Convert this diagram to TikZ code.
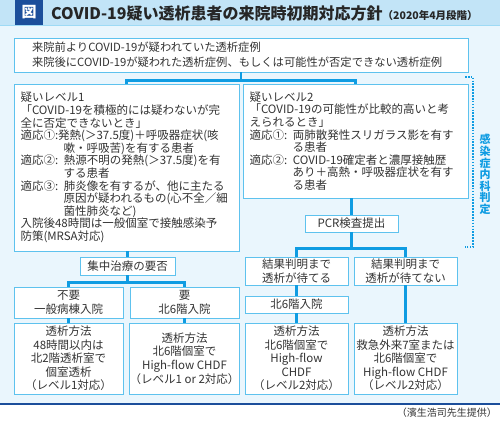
\documentclass[tikz,border=0pt]{standalone}
\usepackage{fontspec}
\setmainfont{Noto Sans CJK JP}
\definecolor{barblue}{HTML}{C2E4F7}
\definecolor{panelblue}{HTML}{EAF6FD}
\definecolor{navy}{HTML}{1B4E9B}
\definecolor{edgeblue}{HTML}{5EC2EE}
\definecolor{lineblue}{HTML}{0F9CE2}
\definecolor{inktext}{HTML}{333333}

\begin{document}
\begin{tikzpicture}[x=1pt, y=-1pt,
    box/.style={draw=edgeblue, fill=white, line width=0.9pt, inner sep=0pt,
        text=inktext, align=center, font=\fontsize{11.5}{13.6}\selectfont},
    levelbox/.style={box, align=left, minimum width=225pt, text width=212pt,
        font=\fontsize{11.5}{12.6}\selectfont},
    smallbox/.style={box, minimum width=103pt},
    conn/.style={draw=lineblue, line width=2.6pt}]
    % --- Khung tổng thể
    \def\W{500}
    \def\H{422}
    \def\ind{\hspace*{3.75em}}
    \useasboundingbox (0,0) rectangle (\W,\H);
    \fill[panelblue] (0,25) rectangle (\W,404);
    \fill[barblue] (0,0) rectangle (\W,25);
    \draw[edgeblue!60, line width=0.6pt] (0,25) -- (\W,25);
    \draw[navy, line width=2pt] (0,404) -- (\W,404);

    % --- Tiêu đề
    \node[fill=navy, text=white, minimum width=28pt, minimum height=25pt, inner sep=0pt,
        font=\bfseries\fontsize{15}{15}\selectfont] (fig) at (29,12.5) {図};
    \node[anchor=west, inner sep=0pt, text=black!85, font=\bfseries\fontsize{16}{16}\selectfont]
        (title) at (51,13) {COVID-19疑い透析患者の来院時初期対応方針{\fontsize{10.5}{10.5}\selectfont （2020年4月段階）}};

    % --- Hộp đầu
    \node[box, align=left, minimum width=454pt, minimum height=34pt, text width=418pt,
        font=\fontsize{11.3}{15}\selectfont] (top) at (241,55)
        {来院前よりCOVID-19が疑われていた透析症例\\
         来院後にCOVID-19が疑われた透析症例、もしくは可能性が否定できない透析症例};

    % --- Hai mức nghi ngờ
    \node[levelbox, minimum height=167pt] (lv1) at (126.5,167.5)
        {疑いレベル1\\
         「COVID-19を積極的には疑わないが完\\
         全に否定できないとき」\\
         適応①:発熱(＞37.5度)＋呼吸器症状(咳\\
         \ind 嗽・呼吸苦)を有する患者\\
         適応②: 熱源不明の発熱(＞37.5度)を有\\
         \ind する患者\\
         適応③: 肺炎像を有するが、他に主たる\\
         \ind 原因が疑われるもの(心不全／細\\
         \ind 菌性肺炎など)\\
         入院後48時間は一般個室で接触感染予\\
         防策(MRSA対応)};
    \node[levelbox, minimum height=114pt] (lv2) at (355.5,141)
        {疑いレベル2\\
         「COVID-19の可能性が比較的高いと考\\
         えられるとき」\\
         適応①: 両肺散発性スリガラス影を有す\\
         \ind る患者\\
         適応②: COVID-19確定者と濃厚接触歴\\
         \ind あり＋高熱・呼吸器症状を有す\\
         \ind る患者};

    % --- Nhánh trái
    \node[box, minimum width=95pt, minimum height=18pt] (need) at (127.5,266) {集中治療の要否};
    \node[box, minimum width=109pt, minimum height=31pt] (noNeed) at (68.5,302.5) {不要\\一般病棟入院};
    \node[box, minimum width=109pt, minimum height=31pt] (yesNeed) at (184.5,302.5) {要\\北6階入院};
    \node[box, minimum width=109pt, minimum height=71pt] (methA) at (68.5,358.5)
        {透析方法\\48時間以内は\\北2階透析室で\\個室透析\\（レベル1対応）};
    \node[box, minimum width=109pt, minimum height=71pt] (methB) at (184.5,358.5)
        {透析方法\\北6階個室で\\High-flow CHDF\\（レベル1 or 2対応）};

    % --- Nhánh phải
    \node[box, minimum width=93pt, minimum height=17pt] (pcr) at (351.5,223.5) {PCR検査提出};
    \node[smallbox, minimum height=28pt] (waitA) at (296.5,271) {結果判明まで\\透析が待てる};
    \node[smallbox, minimum height=28pt] (waitB) at (405.5,271) {結果判明まで\\透析が待てない};
    \node[smallbox, minimum height=17pt] (ward6) at (296.5,304.5) {北6階入院};
    \node[smallbox, minimum height=71pt] (methC) at (296.5,358.5)
        {透析方法\\北6階個室で\\High-flow\\CHDF\\（レベル2対応）};
    \node[smallbox, minimum height=71pt] (methD) at (405.5,358.5)
        {透析方法\\救急外来7室または\\北6階個室で\\High-flow CHDF\\（レベル2対応）};

    % --- Đường nối
    \draw[conn] (top.south) -- ++(0,8) -| (lv1.north);
    \draw[conn] (top.south) -- ++(0,8) -| (lv2.north);
    \draw[conn] (need.north |- lv1.south) -- (need.north);
    \draw[conn] (need.south) -- ++(0,7) -| (noNeed.north);
    \draw[conn] (need.south) -- ++(0,7) -| (yesNeed.north);
    \draw[conn] (noNeed.south) -- (methA.north);
    \draw[conn] (yesNeed.south) -- (methB.north);
    \draw[conn] (pcr.north |- lv2.south) -- (pcr.north);
    \draw[conn] (pcr.south) -- ++(0,16) -| (waitA.north);
    \draw[conn] (pcr.south) -- ++(0,16) -| (waitB.north);
    \draw[conn] (waitA.south) -- (ward6.north);
    \draw[conn] (ward6.south) -- (methC.north);
    \draw[conn] (waitB.south) -- (methD.north);

    % --- Ngoặc chấm: phán định của khoa truyền nhiễm
    \coordinate (brTop) at (465,77);
    \coordinate (brBot) at (465,247);
    \draw[lineblue, line width=1.6pt, dash pattern=on 1.6pt off 1.3pt] (brTop) -- ++(8,0) |- (brBot);
    \node[text=lineblue, inner sep=0pt, align=center, font=\bfseries\fontsize{11}{11.6}\selectfont]
        (judge) at (485,174.5) {感\\染\\症\\内\\科\\判\\定};

    % --- Nguồn
    \node[anchor=east, inner sep=0pt, text=inktext, font=\fontsize{10}{10}\selectfont]
        (credit) at (497,413) {（濱生浩司先生提供）};
\end{tikzpicture}
\end{document}
